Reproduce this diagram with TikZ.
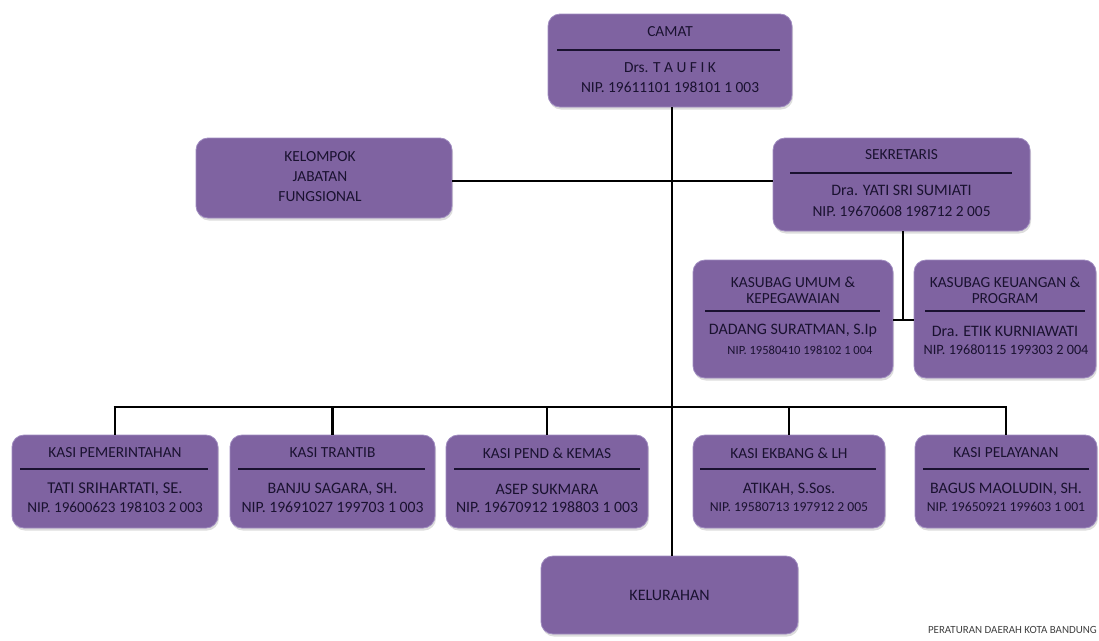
\documentclass[tikz,border=0pt]{standalone}
\usepackage{fontspec}
\setmainfont{Carlito}
\usetikzlibrary{shadows}
\definecolor{boxfill}{HTML}{7F63A1}
\definecolor{boxedge}{HTML}{A08CC0}
\definecolor{txt}{HTML}{1A1230}
\newcommand{\fsz}[1]{\fontsize{\fpeval{1.14*#1}}{\fpeval{1.14*#1}}\selectfont}
\begin{document}
\begin{tikzpicture}[x=1pt,y=-1pt,
  box/.style={draw=boxedge, line width=0.8pt, fill=boxfill, rounded corners=12pt, inner sep=0pt,
    drop shadow={shadow xshift=1pt, shadow yshift=-2.5pt, fill=gray!45, opacity=0.6}},
  t/.style={text=txt, inner sep=0pt},
  div/.style={draw=txt, line width=1.2pt},
  conn/.style={draw=black, line width=2.8pt}]
\useasboundingbox (0,0) rectangle (1099,640);

% boxes
\node[box, minimum width=244, minimum height=93] (camat) at (670,60.5) {};
\node[box, minimum width=256, minimum height=80] (kjf) at (324,178) {};
\node[box, minimum width=257, minimum height=93] (sek) at (901.5,184.5) {};
\node[box, minimum width=200, minimum height=118] (kum) at (793,319) {};
\node[box, minimum width=182, minimum height=118] (kku) at (1005,319) {};
\node[box, minimum width=206, minimum height=93] (kpem) at (115,481.5) {};
\node[box, minimum width=205, minimum height=93] (ktr) at (332.5,481.5) {};
\node[box, minimum width=202, minimum height=93] (kpend) at (547,481.5) {};
\node[box, minimum width=192, minimum height=93] (kek) at (789,481.5) {};
\node[box, minimum width=182, minimum height=93] (kpel) at (1006,481.5) {};
\node[box, minimum width=257, minimum height=78] (kel) at (669.5,595) {};

% connectors
\coordinate (spine) at (672,0);
\coordinate (hy) at (0,181);
\coordinate (sx) at (903,320);
\coordinate (bus) at (0,407);
\draw[conn] (camat.south -| spine) -- (kel.north -| spine);
\draw[conn] (kjf.east |- hy) -- (sek.west |- hy);
\draw[conn] (sek.south -| sx) -- (sx);
\draw[conn] (kum.east |- sx) -- (kku.west |- sx);
\draw[conn] ([xshift=-1.4pt]kpem.north |- bus) -- ([xshift=1.4pt]kpel.north |- bus);
\foreach \b in {kpem,ktr,kpend,kek,kpel}{
  \draw[conn] (\b.north |- bus) -- (\b.north);
}

% dividers
\draw[div] (557,50) -- (780,50);
\draw[div] (790,173) -- (1012,173);
\draw[div] (705,311) -- (880,311);
\draw[div] (925,311) -- (1085,311);
\draw[div] (20,469) -- (208,469);
\draw[div] (238,469) -- (425,469);
\draw[div] (454,469) -- (640,469);
\draw[div] (700,469) -- (876,469);
\draw[div] (923,469) -- (1089,469);

% texts
\node[t, font=\fsz{13.5}] (camat-a) at (670,32) {CAMAT};
\node[t, font=\fsz{13.5}] (camat-b) at (670,68) {Drs. T A U F I K};
\node[t, font=\fsz{13.5}] (camat-c) at (670,87) {NIP. 19611101 198101 1 003};

\node[t, font=\fsz{13.5}] (kjf-a) at (320,157) {KELOMPOK};
\node[t, font=\fsz{13.5}] (kjf-b) at (320,177) {JABATAN};
\node[t, font=\fsz{13.5}] (kjf-c) at (320,197) {FUNGSIONAL};

\node[t, font=\fsz{13.5}] (sek-a) at (901.5,155) {SEKRETARIS};
\node[t, font=\fsz{14}] (sek-b) at (901.5,190) {Dra. YATI SRI SUMIATI};
\node[t, font=\fsz{13.5}] (sek-c) at (901.5,211) {NIP. 19670608 198712 2 005};

\node[t, font=\fsz{13.5}] (kum-a) at (793,282) {KASUBAG UMUM \&};
\node[t, font=\fsz{13.5}] (kum-b) at (793,299) {KEPEGAWAIAN};
\node[t, font=\fsz{14}] (kum-c) at (793,331) {DADANG SURATMAN, S.Ip};
\node[t, font=\fsz{11}] (kum-d) at (800,350) {NIP. 19580410 198102 1 004};

\node[t, font=\fsz{13.5}] (kku-a) at (1005,282) {KASUBAG KEUANGAN \&};
\node[t, font=\fsz{13.5}] (kku-b) at (1005,299) {PROGRAM};
\node[t, font=\fsz{14}] (kku-c) at (1005,331) {Dra. ETIK KURNIAWATI};
\node[t, font=\fsz{12.5}] (kku-d) at (1006,350) {NIP. 19680115 199303 2 004};

\node[t, font=\fsz{13.5}] (kpem-a) at (115,453) {KASI PEMERINTAHAN};
\node[t, font=\fsz{14.5}] (kpem-b) at (115,489) {TATI SRIHARTATI, SE.};
\node[t, font=\fsz{13.3}] (kpem-c) at (115,507) {NIP. 19600623 198103 2 003};

\node[t, font=\fsz{13.5}] (ktr-a) at (332.5,453) {KASI TRANTIB};
\node[t, font=\fsz{14}] (ktr-b) at (332.5,489) {BANJU SAGARA, SH.};
\node[t, font=\fsz{13.8}] (ktr-c) at (332.5,507) {NIP. 19691027 199703 1 003};

\node[t, font=\fsz{13.5}] (kpend-a) at (547,453) {KASI PEND \& KEMAS};
\node[t, font=\fsz{14}] (kpend-b) at (547,489) {ASEP SUKMARA};
\node[t, font=\fsz{13.8}] (kpend-c) at (547,507) {NIP. 19670912 198803 1 003};

\node[t, font=\fsz{13.5}] (kek-a) at (789,453) {KASI EKBANG \& LH};
\node[t, font=\fsz{14}] (kek-b) at (789,489) {ATIKAH, S.Sos.};
\node[t, font=\fsz{12}] (kek-c) at (789,507) {NIP. 19580713 197912 2 005};

\node[t, font=\fsz{13.5}] (kpel-a) at (1006,453) {KASI PELAYANAN};
\node[t, font=\fsz{14}] (kpel-b) at (1006,489) {BAGUS MAOLUDIN, SH.};
\node[t, font=\fsz{12}] (kpel-c) at (1006,507) {NIP. 19650921 199603 1 001};

\node[t, font=\fsz{14}] (kel-a) at (669.5,595) {KELURAHAN};

\node[t, font=\fsz{9.6}, text=black!75, anchor=east] (foot) at (1097,630) {PERATURAN DAERAH KOTA BANDUNG};
\end{tikzpicture}
\end{document}
